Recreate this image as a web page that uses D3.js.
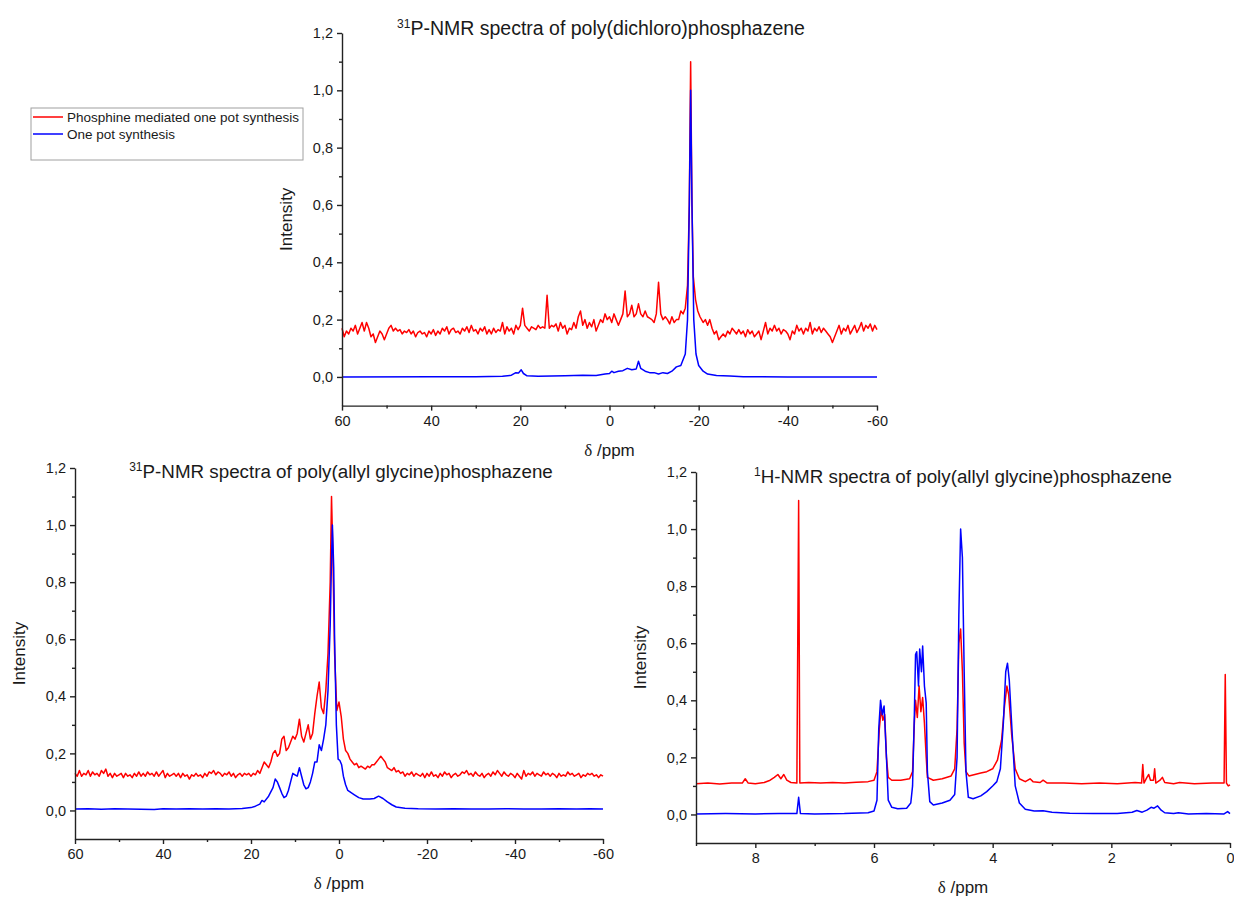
<!DOCTYPE html>
<html>
<head>
<meta charset="utf-8">
<script src="https://d3js.org/d3.v7.min.js"></script>
<style>
  body { margin: 0; background: #fff; }
  svg { display: block; }
  text { font-family: "Liberation Sans", Arial, sans-serif; fill: #1a1a1a; }
</style>
</head>
<body>
<div id="chart"></div>
<script>
// legend / series
const seriesNames = ["Phosphine mediated one pot synthesis", "One pot synthesis"];
const seriesColors = ["#ff0000", "#0000ff"];

// axis ticks
const yMajor = [0, 0.2, 0.4, 0.6, 0.8, 1.0, 1.2];
const yMinor = [0.1, 0.3, 0.5, 0.7, 0.9, 1.1];
const pMajor = [60, 40, 20, 0, -20, -40, -60];
const pMinor = [50, 30, 10, -10, -30, -50];
const hMajor = [8, 6, 4, 2, 0];
const hMinor = [9, 7, 5, 3, 1];

// 31P poly(dichloro)phosphazene, [ppm, intensity]
const dichloroRed = [
  [60,0.17],[59.5,0.14],[59,0.16],[58.5,0.15],[58,0.17],[57.5,0.16],[57,0.18],[56.5,0.15],[56,0.17],[55.5,0.19],
  [55,0.16],[54.5,0.19],[54,0.17],[53.5,0.14],[53,0.15],[52.5,0.12],[52,0.14],[51.5,0.16],[51,0.15],[50.5,0.13],
  [50,0.15],[49.5,0.17],[49,0.18],[48.5,0.16],[48,0.17],[47.5,0.16],[47,0.165],[46.5,0.15],[46,0.16],[45.5,0.155],
  [45,0.165],[44.5,0.15],[44,0.16],[43.5,0.14],[43,0.155],[42.5,0.16],[42,0.15],[41.5,0.155],[41,0.14],[40.5,0.16],
  [40,0.15],[39.5,0.165],[39,0.145],[38.5,0.16],[38,0.15],[37.5,0.17],[37,0.16],[36.5,0.175],[36,0.15],[35.5,0.165],
  [35,0.17],[34.5,0.155],[34,0.16],[33.5,0.15],[33,0.17],[32.5,0.16],[32,0.175],[31.5,0.155],[31,0.18],[30.5,0.16],
  [30,0.165],[29.5,0.15],[29,0.17],[28.5,0.16],[28,0.175],[27.5,0.15],[27,0.165],[26.5,0.15],[26,0.17],[25.5,0.155],
  [25,0.165],[24.5,0.16],[24,0.19],[23.5,0.15],[23,0.175],[22.5,0.16],[22,0.17],[21.5,0.15],[21,0.18],[20.5,0.165],
  [20,0.18],[19.5,0.24],[19,0.18],[18.5,0.17],[18,0.16],[17.5,0.175],[17,0.17],[16.5,0.165],[16,0.18],[15.5,0.17],
  [15,0.175],[14.5,0.17],[14,0.285],[13.5,0.17],[13,0.18],[12.5,0.175],[12,0.185],[11.5,0.16],[11,0.19],[10.5,0.17],
  [10,0.18],[9.5,0.15],[9,0.17],[8.5,0.165],[8,0.19],[7.5,0.17],[7,0.21],[6.5,0.23],[6,0.18],[5.5,0.2],
  [5,0.17],[4.5,0.19],[4,0.175],[3.5,0.2],[3,0.16],[2.5,0.18],[2,0.2],[1.5,0.19],[1,0.22],[0.5,0.2],
  [0,0.21],[-0.5,0.19],[-1,0.22],[-1.5,0.2],[-2,0.18],[-2.5,0.2],[-3,0.22],[-3.5,0.3],[-4,0.21],[-4.5,0.22],
  [-5,0.25],[-5.5,0.21],[-6,0.22],[-6.5,0.255],[-7,0.22],[-7.5,0.21],[-8,0.23],[-8.5,0.21],[-9,0.205],[-9.5,0.2],
  [-10,0.19],[-10.5,0.22],[-11,0.33],[-11.5,0.22],[-12,0.2],[-12.5,0.21],[-13,0.2],[-13.5,0.185],[-14,0.21],[-14.5,0.19],
  [-15,0.2],[-15.5,0.2],[-16,0.23],[-16.5,0.22],[-17,0.24],[-17.5,0.32],[-17.9,0.6],[-18.2,1.1],[-18.5,0.6],[-18.8,0.35],
  [-19.3,0.27],[-19.8,0.23],[-20.3,0.21],[-21,0.19],[-21.5,0.2],[-22,0.18],[-22.5,0.2],[-23,0.17],[-23.5,0.15],[-24,0.16],
  [-24.5,0.13],[-25,0.14],[-25.5,0.15],[-26,0.14],[-26.5,0.16],[-27,0.15],[-27.5,0.17],[-28,0.16],[-28.5,0.15],[-29,0.165],
  [-29.5,0.15],[-30,0.16],[-30.5,0.14],[-31,0.165],[-31.5,0.15],[-32,0.16],[-32.5,0.14],[-33,0.15],[-33.5,0.16],[-34,0.13],
  [-34.5,0.16],[-35,0.19],[-35.5,0.15],[-36,0.17],[-36.5,0.16],[-37,0.18],[-37.5,0.16],[-38,0.17],[-38.5,0.15],[-39,0.165],
  [-39.5,0.16],[-40,0.15],[-40.5,0.13],[-41,0.16],[-41.5,0.15],[-42,0.18],[-42.5,0.16],[-43,0.17],[-43.5,0.15],[-44,0.17],
  [-44.5,0.16],[-45,0.19],[-45.5,0.15],[-46,0.17],[-46.5,0.16],[-47,0.175],[-47.5,0.155],[-48,0.17],[-48.5,0.16],[-49,0.15],
  [-49.5,0.14],[-50,0.12],[-50.5,0.14],[-51,0.16],[-51.5,0.18],[-52,0.15],[-52.5,0.17],[-53,0.16],[-53.5,0.18],[-54,0.15],
  [-54.5,0.165],[-55,0.18],[-55.5,0.155],[-56,0.17],[-56.5,0.19],[-57,0.16],[-57.5,0.18],[-58,0.17],[-58.5,0.185],[-59,0.16],
  [-59.5,0.18],[-60,0.165]
];
const dichloroBlue = [
  [60,0],[40,0.001],[30,0.001],[24,0.002],[22,0.006],[21,0.015],[20.4,0.014],[19.8,0.025],[19.3,0.012],[18.5,0.004],
  [16,0.002],[10,0.004],[6,0.006],[3,0.005],[1,0.01],[0,0.012],[-0.5,0.02],[-1,0.015],[-2,0.02],[-3,0.022],
  [-4,0.03],[-5,0.025],[-6,0.028],[-6.5,0.055],[-7,0.03],[-8,0.02],[-9,0.015],[-10,0.015],[-11,0.01],[-12,0.015],
  [-13,0.012],[-14,0.02],[-15,0.035],[-16,0.04],[-17,0.08],[-17.5,0.2],[-17.9,0.6],[-18.2,1.0],[-18.5,0.6],[-18.9,0.2],
  [-19.4,0.08],[-20,0.04],[-21,0.02],[-22,0.01],[-24,0.005],[-27,0.003],[-30,0.001],[-40,0.0],[-60,0.0]
];

// 31P poly(allyl glycine)phosphazene
const allylPRed = [
  [60,0.13],[59.5,0.12],[59,0.14],[58.5,0.12],[58,0.13],[57.5,0.125],[57,0.14],[56.5,0.12],[56,0.135],[55.5,0.125],
  [55,0.13],[54.5,0.12],[54,0.14],[53.5,0.13],[53,0.145],[52.5,0.12],[52,0.13],[51.5,0.115],[51,0.13],[50.5,0.12],
  [50,0.125],[49.5,0.13],[49,0.115],[48.5,0.13],[48,0.12],[47.5,0.125],[47,0.115],[46.5,0.13],[46,0.12],[45.5,0.135],
  [45,0.12],[44.5,0.13],[44,0.12],[43.5,0.135],[43,0.125],[42.5,0.13],[42,0.12],[41.5,0.135],[41,0.12],[40.5,0.13],
  [40,0.14],[39.5,0.115],[39,0.13],[38.5,0.12],[38,0.125],[37.5,0.13],[37,0.12],[36.5,0.13],[36,0.115],[35.5,0.13],
  [35,0.12],[34.5,0.125],[34,0.11],[33.5,0.125],[33,0.12],[32.5,0.13],[32,0.12],[31.5,0.125],[31,0.115],[30.5,0.13],
  [30,0.12],[29.5,0.135],[29,0.13],[28.5,0.14],[28,0.125],[27.5,0.135],[27,0.13],[26.5,0.12],[26,0.13],[25.5,0.125],
  [25,0.135],[24.5,0.12],[24,0.13],[23.5,0.115],[23,0.125],[22.5,0.13],[22,0.12],[21.5,0.13],[21,0.125],[20.5,0.13],
  [20,0.12],[19.5,0.13],[19,0.125],[18.5,0.14],[18,0.13],[17.5,0.15],[17,0.17],[16.5,0.16],[16,0.15],[15.5,0.17],
  [15,0.2],[14.5,0.21],[14,0.19],[13.5,0.2],[13,0.25],[12.5,0.26],[12,0.21],[11.5,0.22],[11,0.24],[10.5,0.26],
  [10,0.25],[9.5,0.27],[9,0.32],[8.5,0.26],[8,0.24],[7.5,0.27],[7,0.3],[6.5,0.25],[6,0.27],[5.5,0.34],
  [5,0.4],[4.5,0.45],[4,0.36],[3.5,0.34],[3,0.42],[2.5,0.55],[2,0.8],[1.7,1.1],[1.4,0.9],[1,0.55],
  [0.5,0.35],[0,0.38],[-0.5,0.33],[-1,0.25],[-1.5,0.21],[-2,0.2],[-2.5,0.18],[-3,0.17],[-3.5,0.16],[-4,0.165],
  [-4.5,0.15],[-5,0.155],[-5.5,0.15],[-6,0.145],[-6.5,0.155],[-7,0.15],[-7.5,0.16],[-8,0.16],[-8.5,0.17],[-9,0.18],
  [-9.5,0.19],[-10,0.18],[-10.5,0.17],[-11,0.15],[-11.5,0.145],[-12,0.14],[-12.5,0.15],[-13,0.135],[-13.5,0.14],[-14,0.13],
  [-14.5,0.135],[-15,0.12],[-15.5,0.13],[-16,0.125],[-16.5,0.135],[-17,0.12],[-17.5,0.13],[-18,0.125],[-18.5,0.12],[-19,0.13],
  [-19.5,0.115],[-20,0.13],[-20.5,0.12],[-21,0.135],[-21.5,0.12],[-22,0.125],[-22.5,0.115],[-23,0.13],[-23.5,0.12],[-24,0.135],
  [-24.5,0.125],[-25,0.13],[-25.5,0.115],[-26,0.125],[-26.5,0.13],[-27,0.12],[-27.5,0.125],[-28,0.135],[-28.5,0.13],[-29,0.14],
  [-29.5,0.125],[-30,0.13],[-30.5,0.12],[-31,0.135],[-31.5,0.125],[-32,0.12],[-32.5,0.13],[-33,0.115],[-33.5,0.125],[-34,0.13],
  [-34.5,0.12],[-35,0.135],[-35.5,0.125],[-36,0.14],[-36.5,0.13],[-37,0.12],[-37.5,0.135],[-38,0.125],[-38.5,0.12],[-39,0.13],
  [-39.5,0.125],[-40,0.115],[-40.5,0.13],[-41,0.12],[-41.5,0.11],[-42,0.14],[-42.5,0.12],[-43,0.13],[-43.5,0.125],[-44,0.135],
  [-44.5,0.12],[-45,0.13],[-45.5,0.125],[-46,0.12],[-46.5,0.135],[-47,0.125],[-47.5,0.13],[-48,0.12],[-48.5,0.13],[-49,0.125],
  [-49.5,0.115],[-50,0.13],[-50.5,0.12],[-51,0.125],[-51.5,0.12],[-52,0.135],[-52.5,0.125],[-53,0.13],[-53.5,0.12],[-54,0.125],
  [-54.5,0.13],[-55,0.115],[-55.5,0.125],[-56,0.12],[-56.5,0.13],[-57,0.125],[-57.5,0.13],[-58,0.12],[-58.5,0.125],[-59,0.115],
  [-59.5,0.125],[-60,0.12]
];
const allylPBlue = [
  [60,0.005],[57,0.006],[54,0.004],[51,0.006],[48,0.005],[45,0.004],[42,0.003],[40,0.006],[37,0.005],[34,0.006],
  [31,0.005],[28,0.006],[25,0.005],[22,0.007],[20,0.01],[19,0.015],[18,0.022],[17.5,0.035],[17,0.03],[16,0.05],
  [15,0.08],[14.5,0.11],[14,0.1],[13.5,0.08],[13,0.06],[12.5,0.045],[12,0.05],[11.5,0.07],[11,0.1],[10.5,0.13],
  [10,0.125],[9.5,0.12],[9,0.15],[8.5,0.12],[8,0.09],[7.5,0.076],[7,0.08],[6.5,0.1],[6,0.13],[5.5,0.17],
  [5,0.17],[4.5,0.23],[4,0.21],[3.5,0.25],[3,0.3],[2.5,0.42],[2,0.65],[1.7,0.88],[1.5,1.0],[1.2,0.85],
  [1,0.6],[0.6,0.3],[0.2,0.18],[-0.2,0.175],[-0.6,0.16],[-1,0.12],[-1.5,0.09],[-2,0.07],[-3,0.06],[-3.5,0.055],
  [-4.5,0.045],[-5.5,0.04],[-7,0.04],[-8,0.042],[-9,0.05],[-10,0.042],[-11,0.03],[-12,0.02],[-13,0.012],[-15,0.008],
  [-18,0.006],[-22,0.005],[-26,0.006],[-30,0.005],[-34,0.005],[-38,0.006],[-42,0.005],[-46,0.005],[-50,0.006],[-54,0.005],
  [-57,0.006],[-60,0.005]
];

// 1H poly(allyl glycine)phosphazene
const allylHRed = [
  [9,0.108],[8.8,0.11],[8.6,0.107],[8.4,0.11],[8.22,0.11],[8.17,0.125],[8.12,0.11],[8,0.108],[7.85,0.112],[7.75,0.12],
  [7.68,0.13],[7.62,0.14],[7.57,0.125],[7.52,0.14],[7.47,0.12],[7.4,0.112],[7.3,0.11],[7.27,1.1],[7.25,0.11],[7.1,0.112],
  [6.9,0.11],[6.7,0.112],[6.5,0.11],[6.3,0.113],[6.1,0.115],[6.0,0.12],[5.95,0.15],[5.91,0.3],[5.88,0.37],[5.85,0.33],
  [5.82,0.35],[5.79,0.2],[5.76,0.13],[5.7,0.12],[5.55,0.12],[5.4,0.125],[5.35,0.15],[5.32,0.32],[5.3,0.4],[5.27,0.34],
  [5.24,0.45],[5.21,0.36],[5.18,0.41],[5.15,0.32],[5.12,0.2],[5.1,0.13],[5.0,0.12],[4.85,0.125],[4.7,0.135],[4.64,0.16],
  [4.6,0.3],[4.57,0.6],[4.54,0.65],[4.51,0.5],[4.48,0.25],[4.45,0.15],[4.4,0.135],[4.3,0.14],[4.2,0.145],[4.1,0.15],
  [4.0,0.16],[3.92,0.19],[3.85,0.26],[3.8,0.38],[3.76,0.45],[3.73,0.42],[3.68,0.28],[3.62,0.16],[3.55,0.125],[3.45,0.115],
  [3.37,0.125],[3.32,0.115],[3.2,0.112],[3.15,0.12],[3.08,0.11],[2.8,0.11],[2.5,0.108],[2.2,0.11],[1.9,0.108],[1.6,0.112],
  [1.49,0.11],[1.47,0.175],[1.45,0.11],[1.4,0.13],[1.37,0.14],[1.34,0.12],[1.29,0.12],[1.27,0.16],[1.25,0.11],[1.18,0.12],
  [1.14,0.13],[1.1,0.112],[0.95,0.108],[0.85,0.112],[0.6,0.108],[0.3,0.11],[0.1,0.11],[0.08,0.49],[0.06,0.11],[0.03,0.1],
  [0,0.104]
];
const allylHBlue = [
  [9,0.002],[8.5,0.003],[8,0.002],[7.6,0.003],[7.3,0.003],[7.27,0.06],[7.24,0.003],[7,0.002],[6.5,0.003],[6.1,0.006],
  [6.0,0.012],[5.95,0.05],[5.92,0.3],[5.89,0.4],[5.86,0.35],[5.83,0.38],[5.79,0.2],[5.76,0.05],[5.7,0.025],[5.6,0.02],
  [5.45,0.022],[5.38,0.04],[5.35,0.1],[5.32,0.35],[5.3,0.56],[5.28,0.57],[5.25,0.45],[5.23,0.58],[5.2,0.5],[5.18,0.59],
  [5.15,0.45],[5.12,0.39],[5.1,0.15],[5.06,0.045],[5.0,0.033],[4.85,0.04],[4.72,0.05],[4.64,0.07],[4.6,0.2],[4.57,0.7],
  [4.54,1.0],[4.51,0.9],[4.48,0.5],[4.45,0.15],[4.41,0.06],[4.33,0.055],[4.2,0.065],[4.1,0.08],[4.0,0.1],[3.93,0.115],
  [3.87,0.16],[3.82,0.32],[3.78,0.5],[3.75,0.53],[3.72,0.47],[3.67,0.28],[3.62,0.1],[3.55,0.04],[3.45,0.018],[3.3,0.012],
  [3.15,0.013],[3.0,0.008],[2.7,0.004],[2.3,0.003],[1.9,0.003],[1.65,0.008],[1.57,0.014],[1.48,0.008],[1.4,0.015],[1.33,0.025],
  [1.28,0.022],[1.22,0.03],[1.16,0.015],[1.1,0.006],[0.95,0.003],[0.87,0.006],[0.7,0.002],[0.4,0.003],[0.1,0.002],[0.04,0.01],
  [0,0.003]
];

const panels = [
  {
    iso: "31", title: "P-NMR spectra of poly(dichloro)phosphazene",
    domain: [60, -60], major: pMajor, minor: pMinor,
    red: dichloroRed, blue: dichloroBlue,
    left: 342, right: 877, top: 33, bottom: 405.6, titleX: 601, titleY: 35, titleSize: 19.5
  },
  {
    iso: "31", title: "P-NMR spectra of poly(allyl glycine)phosphazene",
    domain: [60, -60], major: pMajor, minor: pMinor,
    red: allylPRed, blue: allylPBlue,
    left: 75, right: 603, top: 468, bottom: 839, titleX: 341, titleY: 478, titleSize: 18.8
  },
  {
    iso: "1", title: "H-NMR spectra of poly(allyl glycine)phosphazene",
    domain: [9, 0], major: hMajor, minor: hMinor,
    red: allylHRed, blue: allylHBlue,
    left: 696, right: 1230, top: 472, bottom: 843, titleX: 963, titleY: 483, titleSize: 18.8
  }
];

const comma = d3.formatLocale({ decimal: ",", thousands: ".", grouping: [3], currency: ["", ""] });
const fmtY = comma.format(".1f");
const fmtX = (d) => String(d); // plain hyphen minus, as in the original

const svg = d3.select("#chart").append("svg").attr("width", 1234).attr("height", 899);

const drawPanel = (p) => {
  const x = d3.scaleLinear().domain(p.domain).range([p.left, p.right]);
  const y = d3.scaleLinear().domain([-0.1, 1.2]).range([p.bottom, p.top]);
  const g = svg.append("g");

  // title with superscript isotope
  const t = g.append("text")
    .attr("x", p.titleX).attr("y", p.titleY)
    .attr("text-anchor", "middle").style("font-size", p.titleSize + "px");
  t.append("tspan").attr("dy", -7).style("font-size", "12px").text(p.iso);
  t.append("tspan").attr("dy", 7).text(p.title);

  const line = d3.line().x((d) => x(d[0])).y((d) => y(d[1]));
  [p.red, p.blue].forEach((s, i) => {
    g.append("path").datum(s)
      .attr("d", line).attr("fill", "none")
      .attr("stroke", seriesColors[i]).attr("stroke-width", 1.5)
      .attr("stroke-linejoin", "round");
  });

  // axes
  g.append("g").attr("transform", `translate(0,${p.bottom})`)
    .call(d3.axisBottom(x).tickValues(p.major).tickSize(5).tickSizeOuter(0).tickPadding(5)
      .tickFormat(fmtX));
  g.append("g").attr("transform", `translate(0,${p.bottom})`)
    .call(d3.axisBottom(x).tickValues(p.minor).tickSize(3).tickFormat(""))
    .select(".domain").remove();
  g.append("g").attr("transform", `translate(${p.left},0)`)
    .call(d3.axisLeft(y).tickValues(yMajor).tickSize(5).tickSizeOuter(0).tickPadding(4).tickFormat(fmtY));
  g.append("g").attr("transform", `translate(${p.left},0)`)
    .call(d3.axisLeft(y).tickValues(yMinor).tickSize(3).tickFormat(""))
    .select(".domain").remove();

  g.selectAll(".domain, .tick line").attr("stroke", "#222").attr("stroke-width", 1.4);
  g.selectAll(".tick text").style("font-size", "14.5px").attr("fill", "#1a1a1a")
    .style("font-family", '"Liberation Sans", Arial, sans-serif');

  g.append("text")
    .attr("x", (p.left + p.right) / 2).attr("y", p.bottom + 50)
    .attr("text-anchor", "middle").style("font-size", "17px")
    .html('<tspan style="font-family:\'Liberation Serif\',serif">δ</tspan> /ppm');

  g.append("text")
    .attr("transform", `translate(${p.left - 50},${(p.top + p.bottom) / 2}) rotate(-90)`)
    .attr("text-anchor", "middle").style("font-size", "17px")
    .text("Intensity");
};

panels.forEach(drawPanel);

// legend
const lg = svg.append("g").attr("transform", "translate(31,108)");
lg.append("rect").attr("width", 272).attr("height", 52)
  .attr("fill", "#fff").attr("stroke", "#a0a0a0").attr("stroke-width", 1);
seriesNames.forEach((n, i) => {
  lg.append("line").attr("x1", 2).attr("x2", 32).attr("y1", 9 + i * 17).attr("y2", 9 + i * 17)
    .attr("stroke", seriesColors[i]).attr("stroke-width", 1.5);
  lg.append("text").attr("x", 36).attr("y", 14 + i * 17).style("font-size", "13.5px").text(n);
});
</script>
</body>
</html>
